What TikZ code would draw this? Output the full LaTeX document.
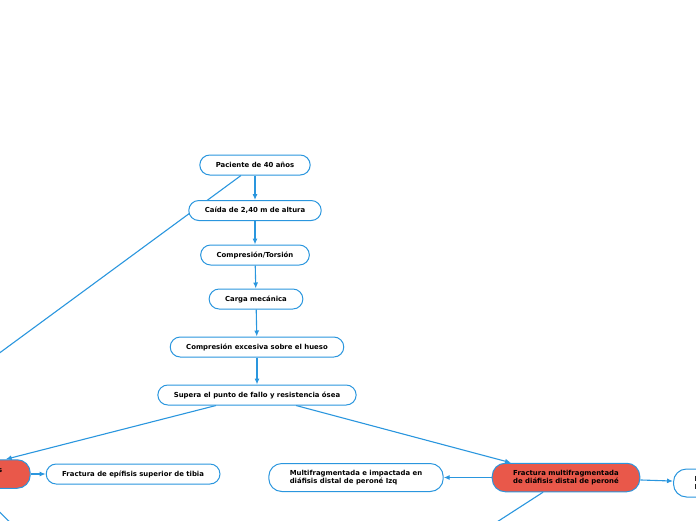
\documentclass[tikz,border=0pt]{standalone}
\usepackage{fontspec}
\setmainfont{DejaVu Sans}
\usetikzlibrary{positioning, arrows.meta, backgrounds}

\definecolor{mapblue}{RGB}{42,150,222}
\definecolor{mapred}{RGB}{233,88,74}

\tikzset{
    topic/.style={draw=mapblue, line width=1pt, fill=white, rounded corners=10pt,
        minimum height=20pt, inner xsep=16pt, inner ysep=2pt,
        font=\fontsize{6.9}{8}\selectfont\bfseries, text=black},
    hot/.style={topic, fill=mapred, rounded corners=13pt, minimum height=28.5pt,
        align=center, inner xsep=21pt},
    twoline/.style={topic, align=left, minimum height=28pt, inner xsep=21pt, rounded corners=13pt},
    link/.style={draw=mapblue, line width=1.1pt, -{Latex[length=6pt,width=5pt]}},
    plain/.style={draw=mapblue, line width=1.1pt}
}

\begin{document}
\begin{tikzpicture}[x=1pt, y=-1pt, node distance=23.5pt]
        \useasboundingbox (0,0) rectangle (696,520);
        \clip (0,0) rectangle (696,520);

        \node[topic]                                (paciente) at (255,165) {Paciente de 40 años};
        \node[topic, below=24.5pt of paciente]      (caida)    {Caída de 2,40 m de altura};
        \node[topic, below=of caida]                (torsion)  {Compresión/Torsión};
        \node[topic, below=23pt of torsion, xshift=1pt] (carga) {Carga mecánica};
        \node[topic, below=27pt of carga, xshift=1pt] (exceso) {Compresión excesiva sobre el hueso};
        \node[topic, below=27pt of exceso]          (fallo)    {Supera el punto de fallo y resistencia ósea};

        \node[hot, anchor=east, inner xsep=28pt]    (tibia)    at (30.7,474) {Fracturas óseas\\en tibia};
        \node[topic, right=15pt of tibia]           (epifisis) {Fractura de epífisis superior de tibia};
        \node[hot]                                  (perone)   at (566,477.5) {Fractura multifragmentada\\de diáfisis distal de peroné};
        \node[twoline, left=48pt of perone]         (multi)    {Multifragmentada e impactada en\\diáfisis distal de peroné Izq};
        \node[twoline, anchor=west]                 (distal)   at (673,483) {Fractura de peroné\\Diáfisis distal};

        \coordinate (far left)     at (-40,382);
        \coordinate (tibia below)  at (20,532);
        \coordinate (perone below) at (469,540);

        \begin{scope}[on background layer]
            \clip (0,0) rectangle (696,520);
            \draw[link] (paciente) -- (caida);
            \draw[link] (caida)    -- (torsion);
            \draw[link] (torsion)  -- (carga);
            \draw[link] (carga)    -- (exceso);
            \draw[link] (exceso)   -- (fallo);
            \draw[link] ([xshift=-41pt]fallo.south) -- ([xshift=-25pt]tibia.north east);
            \draw[link] ([xshift=39pt]fallo.south)  -- ([xshift=-55pt]perone.north);
            \draw[link] (tibia)    -- (epifisis);
            \draw[link] (perone)   -- (multi);
            \draw[link] (perone)   -- (distal);
            \draw[plain] ([xshift=-14pt]paciente.south) -- (far left);
            \draw[plain] ([xshift=-55pt]tibia.south east) -- (tibia below);
            \draw[plain] ([xshift=-23pt]perone.south) -- (perone below);
        \end{scope}
    \end{tikzpicture}
\end{document}
